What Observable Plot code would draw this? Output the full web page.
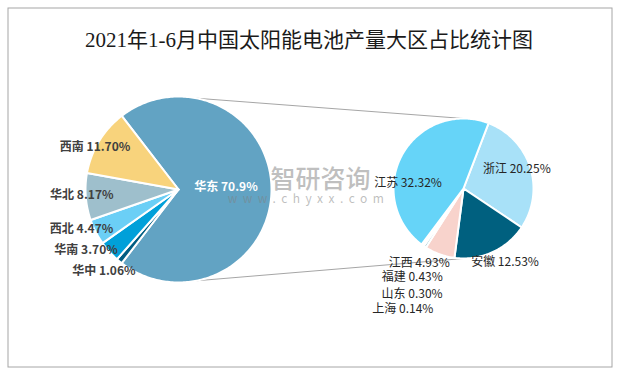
<!DOCTYPE html>
<html><head><meta charset="utf-8">
<script src="https://cdn.jsdelivr.net/npm/d3@7"></script>
<script src="https://cdn.jsdelivr.net/npm/@observablehq/plot@0.6"></script>
<style>body{margin:0;background:#fff} svg{display:block}</style>
</head><body><div id="chart"></div>
<script>
// ---- data ----
const title = "2021年1-6月中国太阳能电池产量大区占比统计图";
const regionNames  = ["华东", "华中", "华南", "西北", "华北", "西南"];
const regionValues = [70.9, 1.06, 3.70, 4.47, 8.17, 11.70];
const regionLabels = ["华东 70.9%", "华中 1.06%", "华南 3.70%", "西北 4.47%", "华北 8.17%", "西南 11.70%"];
const provNames  = ["浙江", "安徽", "江西", "福建", "山东", "上海", "江苏"];
const provValues = [20.25, 12.53, 4.93, 0.43, 0.30, 0.14, 32.32];
const provLabels = ["浙江 20.25%", "安徽 12.53%", "江西 4.93%", "福建 0.43%", "山东 0.30%", "上海 0.14%", "江苏 32.32%"];

// ---- styles / layout ----
const regionColors = ["#62a3c3", "#005d82", "#00a0d9", "#6bcff6", "#9ebfcc", "#f8d37c"];
const provColors   = ["#a8e1f8", "#00607f", "#f8d3cc", "#7fb6c6", "#c9d9df", "#3e9fc0", "#66d4f8"];
const W = 617, H = 374;
const L = {cx: 178, cy: 189, r: 93};
const R = {cx: 463, cy: 188, r: 70};
const rad = d => d * Math.PI / 180;

function buildPie(names, values, cx, cy, r, startDeg) {
  const total = d3.sum(values);
  let a = startDeg;
  const pts = [], info = [];
  names.forEach((n, i) => {
    const span = values[i] / total * 360;
    const a0 = a, a1 = a + span; a = a1;
    pts.push({name: n, x: cx, y: cy});
    const steps = Math.max(2, Math.ceil(span));
    for (let k = 0; k <= steps; k++) {
      const t = rad(a0 + (a1 - a0) * k / steps);
      pts.push({name: n, x: cx + r * Math.sin(t), y: cy - r * Math.cos(t)});
    }
    info.push({name: n, mid: (a0 + a1) / 2});
  });
  return {pts, info};
}

const leftStart = 90 - regionValues[0] / d3.sum(regionValues) * 180;
const left = buildPie(regionNames, regionValues, L.cx, L.cy, L.r, leftStart);
const right = buildPie(provNames, provValues, R.cx, R.cy, R.r, 21);

// label placement: radial position + small nudges (layout only)
const leftRad = [47.5, 100, 100, 100, 100, 100];
const leftNudge = [[0, -2], [-11, 5], [-18, -6], [-8, -6], [3, -2], [2, 10]];
const rightRad = [56, 80, 80, 80, 80, 80, 56];
const rightNudge = [[0, -2], [8.5, 1], [-17, -1], [-7, 22], [-5, 40], [-13, 56], [-6.5, 22]];

function labelRows(pie, labels, c, radii, nudges) {
  return pie.info.map((d, i) => ({
    text: labels[i], name: d.name,
    x: c.cx + radii[i] * Math.sin(rad(d.mid)) + nudges[i][0],
    y: c.cy - radii[i] * Math.cos(rad(d.mid)) + nudges[i][1]
  }));
}
const leftLabelRows = labelRows(left, regionLabels, L, leftRad, leftNudge);
const rightLabelRows = labelRows(right, provLabels, R, rightRad, rightNudge);

// connector lines: left circle edge points -> top/bottom of secondary pie
const connAngles = [11, 169];
const connectors = connAngles.map((ang, i) => ({
  x1: L.cx + L.r * Math.sin(rad(ang)), y1: L.cy - L.r * Math.cos(rad(ang)),
  x2: R.cx, y2: i === 0 ? R.cy - R.r : R.cy + R.r
}));

const font = "'Noto Sans CJK SC', 'Noto Sans', sans-serif";

const chart = Plot.plot({
  width: W, height: H,
  margin: 0,
  style: {background: "#fff", fontFamily: font},
  x: {domain: [0, W], axis: null},
  y: {domain: [0, H], reverse: true, axis: null},
  color: {domain: [...regionNames, ...provNames], range: [...regionColors, ...provColors]},
  marks: [
    Plot.frame({stroke: "#a6a6a6", insetLeft: 7.5, insetTop: 7.5, insetRight: 5.5, insetBottom: 7.5}),
    Plot.text([title], {frameAnchor: "top", dy: 32, text: d => d, fontSize: 21,
      fontFamily: "'Liberation Serif', 'Noto Sans CJK SC', serif", fill: "#1a1a1a"}),
    Plot.link(connectors, {x1: "x1", y1: "y1", x2: "x2", y2: "y2", stroke: "#a6a6a6", strokeWidth: 1}),
    Plot.line(left.pts, {x: "x", y: "y", z: "name", fill: "name", stroke: "#fff", strokeWidth: 2,
      curve: "linear-closed", strokeLinejoin: "round"}),
    Plot.line(right.pts, {x: "x", y: "y", z: "name", fill: "name", stroke: "#fff", strokeWidth: 2,
      curve: "linear-closed", strokeLinejoin: "round"}),
    // watermark
    Plot.text(["智研咨询"], {x: () => 320, y: () => 179, text: d => d, fontSize: 25, fill: "#808080",
      fillOpacity: 0.5, fontWeight: 500}),
    Plot.text(["www.chyxx.com"], {x: () => 308, y: () => 199, text: d => d, fontSize: 12, fill: "#808080",
      fillOpacity: 0.5}),
    Plot.text(leftLabelRows, {x: "x", y: "y", text: "text", fontSize: 12, fontWeight: "bold",
      fill: d => d.name === "华东" ? "#ffffff" : "#404040"}),
    Plot.text(rightLabelRows, {x: "x", y: "y", text: "text", fontSize: 12, fill: "#262626"})
  ]
});
d3.select(chart).selectAll("text").filter(function () { return this.textContent === "www.chyxx.com"; })
  .attr("letter-spacing", "5.5px");
document.getElementById("chart").appendChild(chart);
</script>
</body></html>
